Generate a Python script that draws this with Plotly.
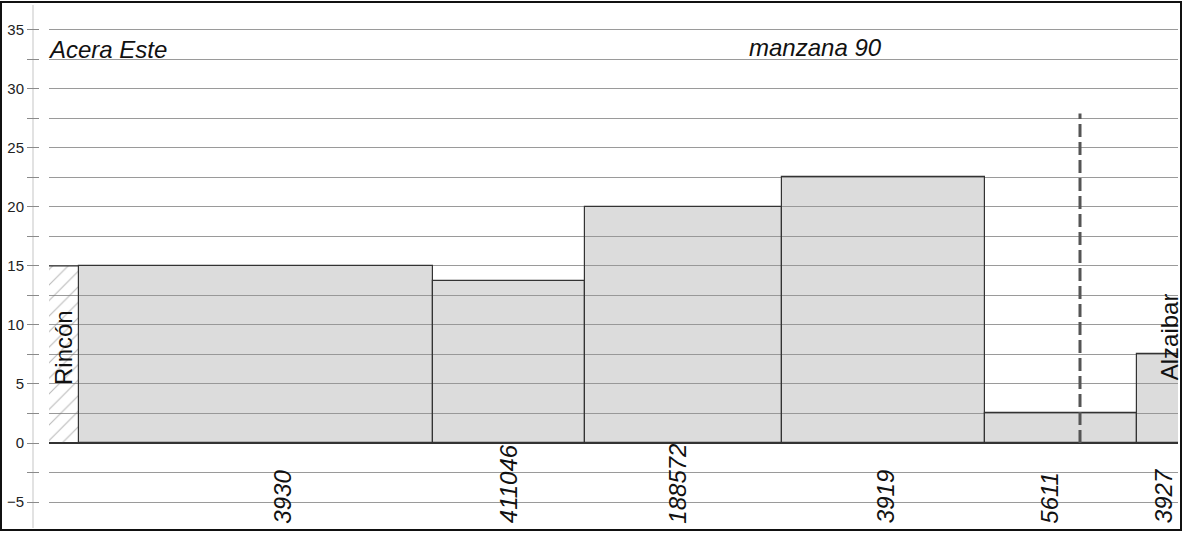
import plotly.graph_objects as go

# ---- data (x in metres along the block front, heights in metres) ----
lots = ["3930", "411046", "188572", "3919", "5611", "3927"]
lot_start = [3.0, 38.4, 53.6, 73.3, 93.6, 108.8]
lot_end = [38.4, 53.6, 73.3, 93.6, 108.8, 113.6]
lot_height = [15.0, 13.75, 20.0, 22.5, 2.5, 7.5]
label_x = [23.4, 45.9, 62.9, 83.6, 100.1, 111.4]

rincon_start, rincon_end, rincon_height = 0.0, 3.0, 15.0
limit_x = 103.1
limit_height = 27.9

y_ticks = [-5, 0, 5, 10, 15, 20, 25, 30, 35]

FONT = "Liberation Sans, Arial, sans-serif"
PLOT_W = 1183 - 39 - 5
PLOT_H = 533 - 5 - 5

centers = [(a + b) / 2 for a, b in zip(lot_start, lot_end)]
widths = [b - a for a, b in zip(lot_start, lot_end)]

fig = go.Figure()

# hatched corner (Rincón)
fig.add_trace(go.Bar(
    x=[(rincon_start + rincon_end) / 2], y=[rincon_height],
    width=[rincon_end - rincon_start], base=0,
    marker=dict(color="rgba(255,255,255,0)",
                line=dict(width=0, color="rgba(0,0,0,0)"),
                pattern=dict(shape="/", fgcolor="#777777",
                             bgcolor="rgba(255,255,255,0)", size=11,
                             solidity=0.1)),
    hoverinfo="skip", showlegend=False))
fig.add_trace(go.Scatter(
    x=[rincon_start, rincon_end], y=[rincon_height, rincon_height],
    mode="lines", line=dict(color="#333333", width=1.2),
    hoverinfo="skip", showlegend=False))
fig.add_trace(go.Scatter(
    x=[rincon_start, rincon_end], y=[0, 0],
    mode="lines", line=dict(color="#333333", width=1.5),
    hoverinfo="skip", showlegend=False))

# lot bars
fig.add_trace(go.Bar(
    x=centers, y=lot_height, width=widths, base=0,
    marker=dict(color="rgba(150,150,150,0.333)",
                line=dict(color="#333333", width=1.2)),
    hovertext=lots, showlegend=False))

# dashed limit line
fig.add_trace(go.Scatter(
    x=[limit_x, limit_x], y=[0, limit_height], mode="lines",
    line=dict(color="#555555", width=3, dash="13px,5px"),
    hoverinfo="skip", showlegend=False))

annotations = []
for name, lx in zip(lots, label_x):
    annotations.append(dict(
        x=lx, y=-7.0, xref="x", yref="y", text=name, showarrow=False,
        textangle=-90, xanchor="center", yanchor="bottom",
        font=dict(family=FONT, size=24, color="#111111", style="italic")))

annotations += [
    dict(x=1.4, y=4.7, xref="x", yref="y", text="Rincón", showarrow=False,
         textangle=-90, xanchor="center", yanchor="bottom",
         font=dict(family=FONT, size=24, color="#111111")),
    dict(x=112.0, y=5.1, xref="x", yref="y", text="Alzaibar", showarrow=False,
         textangle=-90, xanchor="center", yanchor="bottom",
         font=dict(family=FONT, size=24, color="#111111")),
    dict(x=0, y=33.3, xref="x", yref="y", text="Acera Este", showarrow=False,
         xanchor="left", yanchor="middle", xshift=-3,
         font=dict(family=FONT, size=24, color="#111111", style="italic")),
    dict(x=76.6, y=33.5, xref="x", yref="y", text="manzana 90", showarrow=False,
         xanchor="center", yanchor="middle",
         font=dict(family=FONT, size=24, color="#111111", style="italic")),
]

shapes = [
    # faint y axis line
    dict(type="line", xref="paper", yref="paper",
         x0=-6 / PLOT_W, x1=-6 / PLOT_W, y0=0, y1=1,
         line=dict(color="#d8d8d8", width=1.5), layer="below"),
    # outer frame
    dict(type="rect", xref="paper", yref="paper",
         x0=-38 / PLOT_W, x1=1 + 3 / PLOT_W,
         y0=-2 / PLOT_H, y1=1 + 3 / PLOT_H,
         line=dict(color="#111111", width=2), fillcolor="rgba(0,0,0,0)"),
]

fig.update_layout(
    width=1183, height=533,
    margin=dict(l=39, r=5, t=5, b=5),
    paper_bgcolor="white", plot_bgcolor="white",
    barmode="overlay", bargap=0,
    annotations=annotations, shapes=shapes,
    font=dict(family=FONT, color="#222222"),
    xaxis=dict(domain=[10 / PLOT_W, 1], range=[0, 112.9],
               showgrid=False, zeroline=False, showticklabels=False,
               ticks="", showline=False, fixedrange=True),
    yaxis=dict(anchor="free", position=0, range=[-7.2, 37.1],
               tickvals=y_ticks, ticks="outside", ticklen=12,
               tickcolor="#8a8a8a", tickwidth=1,
               showgrid=True, gridcolor="#9a9a9a", gridwidth=1,
               zeroline=True, zerolinecolor="#333333", zerolinewidth=1.5,
               showline=False,
               tickfont=dict(family=FONT, size=15, color="#222222"),
               minor=dict(dtick=2.5, tick0=0, ticks="outside", ticklen=12,
                          tickcolor="#8a8a8a", showgrid=True,
                          gridcolor="#9a9a9a", gridwidth=1),
               fixedrange=True),
)

fig.write_html("out.html",
               config={"displayModeBar": False},
               post_script="document.body.style.margin='0';"
                           "document.body.style.overflow='hidden';")
